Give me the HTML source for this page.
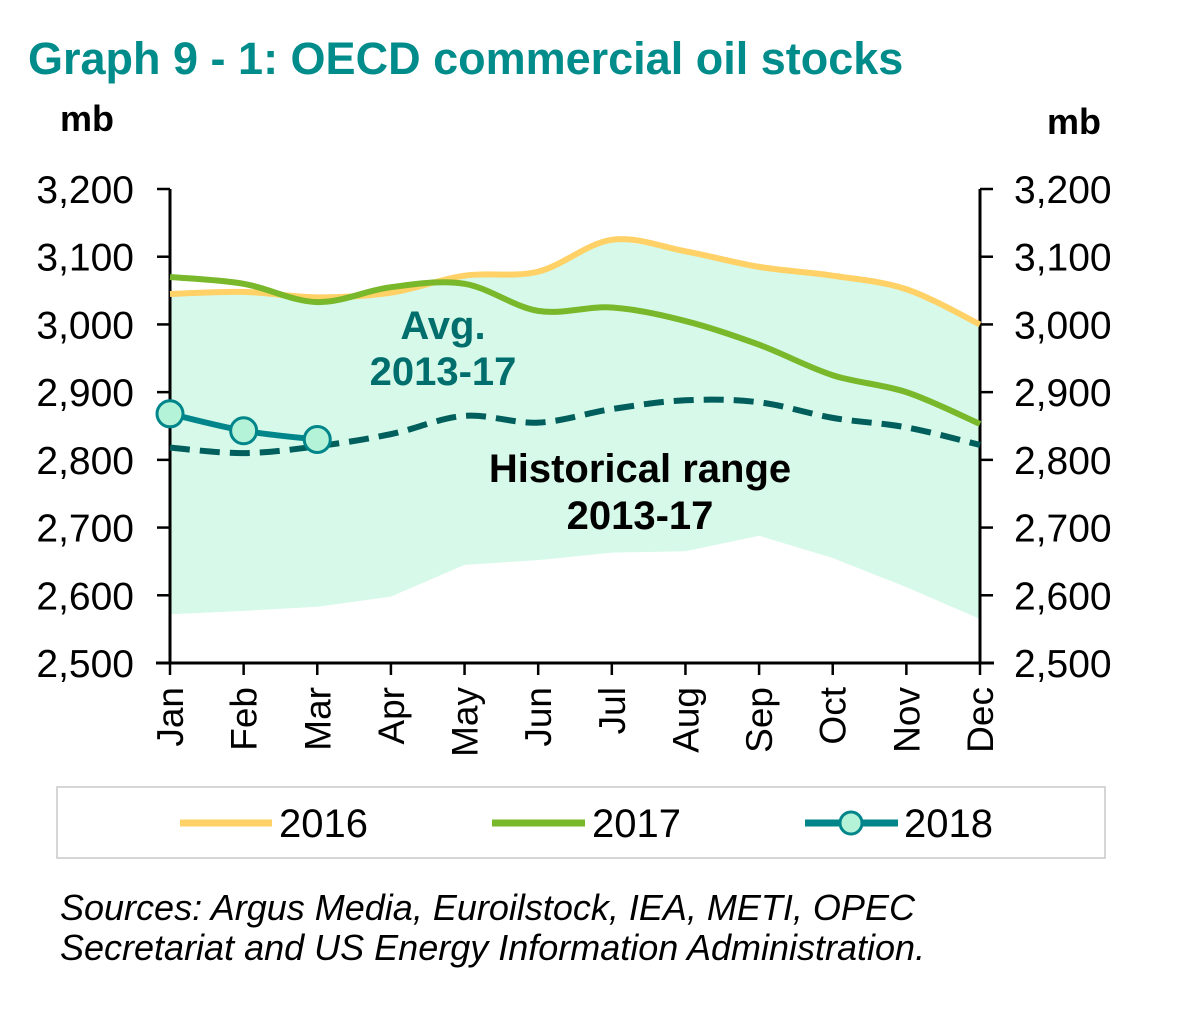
<!DOCTYPE html>
<html><head><meta charset="utf-8"><style>
body{margin:0;background:#fff;}
svg text{font-family:"Liberation Sans",Arial,sans-serif;}
</style></head><body>
<svg width="1200" height="1011" viewBox="0 0 1200 1011" xmlns="http://www.w3.org/2000/svg">
<text x="28" y="74" font-size="45" font-weight="bold" fill="#008c8a">Graph 9 - 1: OECD commercial oil stocks</text>
<text x="60" y="131" font-size="36" font-weight="bold" fill="#000">mb</text>
<text x="1047" y="134" font-size="36" font-weight="bold" fill="#000">mb</text>
<g id="plot"></g>
<rect x="57" y="787" width="1048" height="71" fill="#fff" stroke="#c8c8c8" stroke-width="1.5"/>
<g><line x1="180" y1="823" x2="272" y2="823" stroke="#ffd166" stroke-width="7"/><text x="279" y="837" font-size="40">2016</text></g>
<g><line x1="492" y1="823" x2="585" y2="823" stroke="#78b82a" stroke-width="7"/><text x="592" y="837" font-size="40">2017</text></g>
<g><line x1="805" y1="823" x2="898" y2="823" stroke="#00868a" stroke-width="7"/><circle cx="851" cy="823" r="11" fill="#b4f3d8" stroke="#00868a" stroke-width="3"/><text x="904" y="837" font-size="40">2018</text></g>
<text x="60" y="920" font-size="36" font-style="italic" fill="#000">Sources: Argus Media, Euroilstock, IEA, METI, OPEC</text>
<text x="60" y="960" font-size="36" font-style="italic" fill="#000">Secretariat and US Energy Information Administration.</text>
</svg>
<script>
const months=["Jan","Feb","Mar","Apr","May","Jun","Jul","Aug","Sep","Oct","Nov","Dec"];
const yTicks=[2500,2600,2700,2800,2900,3000,3100,3200];
const s2016=[3045,3048,3040,3047,3072,3078,3125,3108,3085,3072,3052,3000];
const s2017=[3070,3060,3033,3055,3060,3020,3025,3005,2970,2925,2900,2853];
const s2018=[2868,2843,2830];
const avg=[2818,2810,2820,2838,2865,2855,2875,2888,2885,2862,2848,2822];
const rangeHigh=[3045,3048,3040,3047,3072,3078,3125,3108,3085,3072,3052,3000];
const rangeLow=[2572,2577,2583,2598,2645,2652,2663,2665,2688,2655,2612,2565];
const NS="http://www.w3.org/2000/svg";
const X0=170,X1=980,YT=189,YB=663,YMIN=2500,YMAX=3200;
const x=i=>X0+i*(X1-X0)/(months.length-1);
const y=v=>YB-(v-YMIN)/(YMAX-YMIN)*(YB-YT);
const g=document.getElementById('plot');
function el(t,a){const e=document.createElementNS(NS,t);for(const k in a)e.setAttribute(k,a[k]);g.appendChild(e);return e;}
function smooth(pts){let d="M"+pts[0][0]+","+pts[0][1];for(let i=0;i<pts.length-1;i++){const p0=pts[i-1]||pts[i],p1=pts[i],p2=pts[i+1],p3=pts[i+2]||p2;const c1x=p1[0]+(p2[0]-p0[0])/6,c1y=p1[1]+(p2[1]-p0[1])/6,c2x=p2[0]-(p3[0]-p1[0])/6,c2y=p2[1]-(p3[1]-p1[1])/6;d+=" C"+c1x+","+c1y+" "+c2x+","+c2y+" "+p2[0]+","+p2[1];}return d;}
let d="M"+x(0)+","+y(rangeHigh[0]);
rangeHigh.forEach((v,i)=>d+=" L"+x(i)+","+y(v));
for(let i=rangeLow.length-1;i>=0;i--)d+=" L"+x(i)+","+y(rangeLow[i]);
const area=el('path',{d:d+"Z",fill:"#d6f9e9"});


const axL=el('line',{x1:X0,y1:YT,x2:X0,y2:YB,stroke:"#000","stroke-width":3});


const axR=el('line',{x1:X1,y1:YT,x2:X1,y2:YB,stroke:"#000","stroke-width":3});


const axB=el('line',{x1:X0-14,y1:YB,x2:X1+14,y2:YB,stroke:"#000","stroke-width":3});


yTicks.forEach(v=>{
 el('line',{x1:X0-13,y1:y(v),x2:X0,y2:y(v),stroke:"#000","stroke-width":2.5});
 el('line',{x1:X1,y1:y(v),x2:X1+13,y2:y(v),stroke:"#000","stroke-width":2.5});
 const l=el('text',{x:X0-36,y:y(v)+14,"font-size":39,"text-anchor":"end"});l.textContent=v.toLocaleString('en-US');
 
 
 const r=el('text',{x:X1+34,y:y(v)+14,"font-size":39});r.textContent=v.toLocaleString('en-US');
 
 
});
months.forEach((m,i)=>{
 el('line',{x1:x(i),y1:YB,x2:x(i),y2:YB+12,stroke:"#000","stroke-width":2.5});
 const t=el('text',{x:0,y:0,"font-size":37,"text-anchor":"end",transform:`translate(${x(i)+13},${YB+24}) rotate(-90)`});t.textContent=m;
 
 
});
function line(arr,name,attrs){const p=el('path',Object.assign({d:smooth(arr.map((v,i)=>[x(i),y(v)])),fill:"none"},attrs));
 
 return p;}
line(s2016,'line-2016',{stroke:"#ffd166","stroke-width":6});
line(s2017,'line-2017',{stroke:"#78b82a","stroke-width":6});
line(avg,'line-avg-2013-17',{stroke:"#005e5c","stroke-width":6,"stroke-dasharray":"20 10"});
line(s2018,'line-2018',{stroke:"#00868a","stroke-width":6});
s2018.forEach((v,i)=>{const c=el('circle',{cx:x(i),cy:y(v),r:13,fill:"#b4f3d8",stroke:"#00868a","stroke-width":3});
 
 });
function lbl(tx,px,py,fill,name){const t=el('text',{x:px,y:py,"font-size":40,"font-weight":"bold","text-anchor":"middle",fill:fill});t.textContent=tx;
 
 }
lbl("Avg.",443,339,"#006e6c",'avg-label');
lbl("2013-17",443,385,"#006e6c",'avg-label-years');
lbl("Historical range",640,482,"#000",'range-label');
lbl("2013-17",640,529,"#000",'range-label-years');
</script>
</body></html>
